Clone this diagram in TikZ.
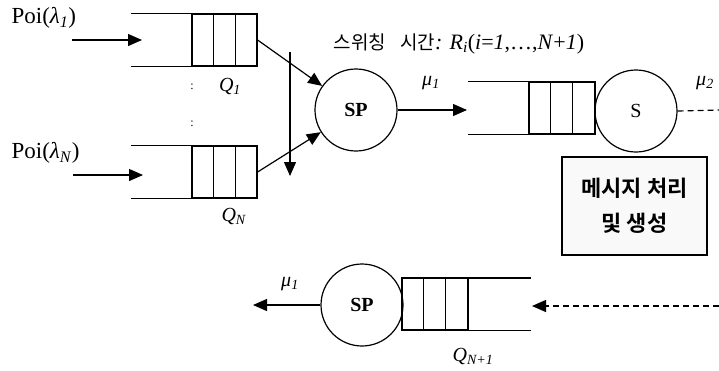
\documentclass[tikz,border=0pt]{standalone}
\usepackage{fontspec}
\setmainfont{Liberation Serif}
\newfontfamily\kor{Noto Sans CJK KR}
\newfontfamily\korb{Noto Sans CJK KR Bold}
\usetikzlibrary{arrows.meta}
\newcommand{\sbs}[1]{\textsubscript{\textit{#1}}}
\begin{document}
\begin{tikzpicture}[x=1pt,y=-1pt,
  line width=1.2pt,
  flow/.style={-{Triangle[length=14pt,width=12pt]}},
  qcells/.style={draw,minimum width=65pt,minimum height=52pt,inner sep=0pt},
  srvnode/.style={draw,circle,minimum size=82pt,inner sep=0pt,font=\fontsize{19}{21}\selectfont},
  lbl/.style={inner sep=0pt,font=\fontsize{20}{22}\selectfont},
  poi/.style={inner sep=0pt,anchor=west,font=\fontsize{23}{25}\selectfont},
  dsh/.style={dash pattern=on 6pt off 4pt}]
\useasboundingbox (0,0) rectangle (719,370);

% arrival streams
\node[poi] (p1) at (11,18) {Poi(\textit{λ}\sbs{1})};
\node[poi] (pn) at (11,153) {Poi(\textit{λ}\sbs{N})};

% queue Q_1
\node[qcells] (q1) at (224.5,40) {};
\draw (q1.north east) -- +(-127,0) (q1.south east) -- +(-127,0);
\foreach \x in {22,44} \draw ([xshift=\x pt]q1.north west) -- ([xshift=\x pt]q1.south west);
\node[lbl] (lq1) at (230,86) {\textit{Q}\sbs{1}};

% queue Q_N
\node[qcells] (qn) at (224.5,172) {};
\draw (qn.north east) -- +(-127,0) (qn.south east) -- +(-127,0);
\foreach \x in {22,44} \draw ([xshift=\x pt]qn.north west) -- ([xshift=\x pt]qn.south west);
\node[lbl] (lqn) at (234,216) {\textit{Q}\sbs{N}};

% vertical ellipsis between the queues
\node[inner sep=0pt,font=\fontsize{12}{12}\selectfont] (d1) at (192,87) {:};
\node[inner sep=0pt,font=\fontsize{12}{12}\selectfont] (d2) at (192,124) {:};

% incoming arrows
\coordinate (a1) at (72,40);
\coordinate (b1) at (142,40);
\coordinate (an) at (73,175);
\coordinate (bn) at (143,175);
\draw[flow] (a1) -- (b1);
\draw[flow] (an) -- (bn);

% switching server
\node[srvnode,font=\fontsize{20}{22}\selectfont\bfseries] (sp) at (356,110) {SP};
\draw[flow] (q1.east) -- (sp);
\draw[flow] (qn.east) -- (sp);

% polling direction
\coordinate (v1) at (290,52);
\coordinate (v2) at (290,176);
\draw[flow] (v1) -- (v2);

\node[inner sep=0pt,anchor=west] (sw) at (333,44)
  {{\kor\fontsize{19}{21}\selectfont 스위칭\hspace{14pt}시간}\fontsize{22}{24}\selectfont\textit{:} \textit{R}\sbs{i}(\textit{i}=\textit{1},…,\textit{N}+\textit{1})};

% message queue and processor
\node[qcells,minimum width=66pt] (q2) at (562,108) {};
\draw (q2.north east) -- +(-128,0) (q2.south east) -- +(-128,0);
\foreach \x in {22,44} \draw ([xshift=\x pt]q2.north west) -- ([xshift=\x pt]q2.south west);
\coordinate (q2in) at (467,110);
\draw[flow] (sp.east) -- (q2in);
\node[lbl] (mu1) at (431,83) {\textit{μ}\sbs{1}};

\node[srvnode,font=\fontsize{20}{22}\selectfont] (s) at (636,111) {S};
\coordinate (sout) at (719,110);
\draw[dsh] (s.east) -- (sout);
\node[lbl] (mu2) at (705,83) {\textit{μ}\sbs{2}};

\node[draw,fill=gray!5,minimum width=145pt,minimum height=98pt,inner sep=0pt,
  align=center,font=\korb\fontsize{22}{35}\selectfont] (box) at (634.5,206) {메시지 처리\\및 생성};

% return path
\node[srvnode,font=\fontsize{20}{22}\selectfont\bfseries] (sp2) at (362,305) {SP};
\node[qcells,minimum width=66pt,minimum height=51pt] (q3) at (435,304) {};
\draw (q3.north west) -- +(130,0) (q3.south west) -- +(130,0);
\foreach \x in {22,44} \draw ([xshift=\x pt]q3.north west) -- ([xshift=\x pt]q3.south west);
\node[lbl] (lq3) at (473,356) {\textit{Q}\sbs{N+1}};

\coordinate (spout) at (253,305);
\draw[flow] (sp2.west) -- (spout);
\node[lbl] (mu3) at (290,284) {\textit{μ}\sbs{1}};

\coordinate (rin) at (719,306);
\coordinate (rout) at (532,306);
\draw[flow,dsh] (rin) -- (rout);
\end{tikzpicture}
\end{document}
